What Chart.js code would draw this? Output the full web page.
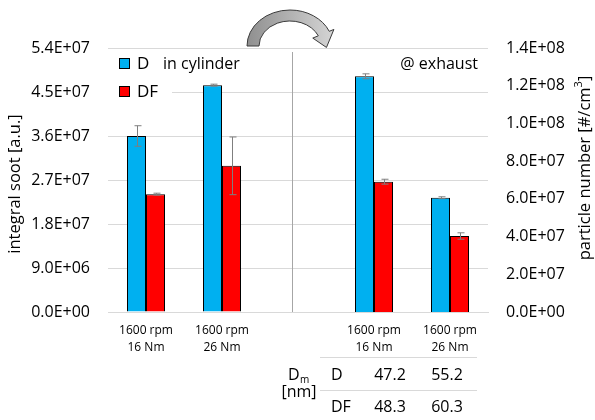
<!DOCTYPE html>
<html>
<head>
<meta charset="utf-8">
<script src="https://cdn.jsdelivr.net/npm/chart.js@4"></script>
<style>
  html, body { margin: 0; padding: 0; background: #fff; }
  #wrap { width: 595px; height: 420px; }
</style>
</head>
<body>
<div id="wrap"><canvas id="chart" width="595" height="420"></canvas></div>
<script>
// categories (index 2 is the gap between "in cylinder" and "@ exhaust")
const categories = [["1600 rpm", "16 Nm"], ["1600 rpm", "26 Nm"], "", ["1600 rpm", "16 Nm"], ["1600 rpm", "26 Nm"]];

// in cylinder -> integral soot [a.u.] (left axis)
const cylD = [3.60e7, 4.64e7, null, null, null];
const cylDF = [2.41e7, 2.99e7, null, null, null];
const cylDErr = [2.1e6, 0.2e6, null, null, null];
const cylDFErr = [0.2e6, 5.9e6, null, null, null];

// @ exhaust -> particle number [#/cm3] (right axis)
const exhD = [null, null, null, 1.25e8, 6.06e7];
const exhDF = [null, null, null, 6.91e7, 4.03e7];
const exhDErr = [null, null, null, 1.3e6, 0.5e6];
const exhDFErr = [null, null, null, 1.3e6, 1.7e6];

// mean diameter table below the exhaust groups
const dmRows = ["D", "DF"];
const dmD = [47.2, 55.2];
const dmDF = [48.3, 60.3];

const leftTicks = { min: 0, max: 5.4e7, step: 9e6 };
const rightTicks = { min: 0, max: 1.4e8, step: 2e7 };

const FONT = "'Open Sans', 'Liberation Sans', sans-serif";
const BLUE = "#00B0F0";
const RED = "#FF0000";

function sci(v) {
    if (v === 0) return "0.0E+00";
    const e = Math.floor(Math.log10(Math.abs(v)) + 1e-9);
    const m = v / Math.pow(10, e);
    return m.toFixed(1) + "E+" + String(e).padStart(2, "0");
}

const errors = [cylDErr, cylDFErr, exhDErr, exhDFErr];

const errorBars = {
    id: "errorBars",
    afterDatasetsDraw(chart) {
        const ctx = chart.ctx;
        ctx.save();
        ctx.strokeStyle = "#7f7f7f";
        ctx.lineWidth = 1;
        chart.data.datasets.forEach((ds, i) => {
            const meta = chart.getDatasetMeta(i);
            const scale = chart.scales[meta.yAxisID];
            meta.data.forEach((bar, j) => {
                const v = ds.data[j];
                const e = errors[i][j];
                if (v == null || e == null) return;
                const x = Math.round(bar.x) + 0.5;
                const yt = scale.getPixelForValue(v + e);
                const yb = scale.getPixelForValue(v - e);
                ctx.beginPath();
                ctx.moveTo(x, yt); ctx.lineTo(x, yb);
                ctx.moveTo(x - 3, yt); ctx.lineTo(x + 4, yt);
                ctx.moveTo(x - 3, yb); ctx.lineTo(x + 4, yb);
                ctx.stroke();
            });
        });
        ctx.restore();
    }
};

const decorations = {
    id: "decorations",
    afterDraw(chart) {
        const ctx = chart.ctx;
        const area = chart.chartArea;
        const xs = chart.scales.x;
        ctx.save();

        // divider between the two halves
        const xd = Math.round((xs.getPixelForValue(1) + xs.getPixelForValue(3)) / 2 - 6) + 0.5;
        ctx.strokeStyle = "#a6a6a6";
        ctx.lineWidth = 1;
        ctx.beginPath();
        ctx.moveTo(xd, area.top + 4);
        ctx.lineTo(xd, area.bottom);
        ctx.stroke();

        // legend box
        ctx.fillStyle = "#fff";
        ctx.fillRect(area.left, area.top + 3, 64, 50);
        const legendItems = [chart.data.datasets[0], chart.data.datasets[1]];
        legendItems.forEach((ds, i) => {
            const y = area.top + 15 + i * 28;
            ctx.fillStyle = ds.backgroundColor;
            ctx.fillRect(area.left + 11.5, y - 4.5, 10, 10);
            ctx.strokeStyle = "#000";
            ctx.strokeRect(area.left + 11.5, y - 4.5, 10, 10);
            ctx.fillStyle = "#000";
            ctx.font = "17px " + FONT;
            ctx.textBaseline = "middle";
            ctx.textAlign = "left";
            ctx.fillText(ds.label, area.left + 29, y + 1);
        });
        ctx.font = "16px " + FONT;
        ctx.fillText("in cylinder", area.left + 55, area.top + 16);
        ctx.textAlign = "right";
        ctx.fillText("@ exhaust", area.right - 10, area.top + 16);

        // axis titles
        ctx.textAlign = "center";
        ctx.font = "16.5px " + FONT;
        ctx.save();
        ctx.translate(15, (area.top + area.bottom) / 2 + 4);
        ctx.rotate(-Math.PI / 2);
        ctx.fillText("integral soot [a.u.]", 0, 0);
        ctx.restore();

        ctx.save();
        ctx.translate(585, (area.top + area.bottom) / 2 - 12);
        ctx.rotate(-Math.PI / 2);
        const t1 = "particle number [#/cm";
        const w1 = ctx.measureText(t1).width;
        ctx.font = "11px " + FONT;
        const w2 = ctx.measureText("3").width;
        ctx.font = "16.5px " + FONT;
        const w3 = ctx.measureText("]").width;
        const x0 = -(w1 + w2 + w3) / 2;
        ctx.textAlign = "left";
        ctx.fillText(t1, x0, 0);
        ctx.font = "11px " + FONT;
        ctx.fillText("3", x0 + w1, -6);
        ctx.font = "16.5px " + FONT;
        ctx.fillText("]", x0 + w1 + w2, 0);
        ctx.restore();

        // curved arrow above the divider
        const cx = 290, cy = 46;
        const th = -0.42;
        const ox = cx + 43 * Math.cos(th), oy = cy + 36 * Math.sin(th);
        const ix = cx + 31 * Math.cos(th), iy = cy + 25 * Math.sin(th);
        const dx = ox - ix, dy = oy - iy, dl = Math.hypot(dx, dy);
        const ux = dx / dl, uy = dy / dl;
        const mx = (ox + ix) / 2, my = (oy + iy) / 2;
        const tip = [mx - uy * 15 - 3, my + ux * 15];
        const grad = ctx.createLinearGradient(247, 0, 335, 0);
        grad.addColorStop(0, "#8f8f8f");
        grad.addColorStop(1, "#d6d6d6");
        ctx.beginPath();
        ctx.ellipse(cx, cy, 43, 36, 0, Math.PI, 2 * Math.PI + th, false);
        ctx.lineTo(ox + ux * 5, oy + uy * 5);
        ctx.lineTo(tip[0], tip[1]);
        ctx.lineTo(ix - ux * 6, iy - uy * 6);
        ctx.lineTo(ix, iy);
        ctx.ellipse(cx, cy, 31, 25, 0, 2 * Math.PI + th, Math.PI, true);
        ctx.closePath();
        ctx.fillStyle = grad;
        ctx.fill();
        ctx.strokeStyle = "#3a3a3a";
        ctx.lineWidth = 1;
        ctx.stroke();

        // Dm table
        const tl = 320, tr = 477;
        ctx.strokeStyle = "#d9d9d9";
        ctx.beginPath();
        ctx.moveTo(tl, 357.5); ctx.lineTo(tr, 357.5);
        ctx.moveTo(tl, 390.5); ctx.lineTo(tr, 390.5);
        ctx.stroke();
        ctx.fillStyle = "#000";
        ctx.textBaseline = "middle";
        ctx.font = "16px " + FONT;
        ctx.textAlign = "left";
        ctx.fillText("D", 288, 375);
        ctx.font = "10px " + FONT;
        ctx.fillText("m", 300, 380);
        ctx.font = "16px " + FONT;
        ctx.textAlign = "center";
        ctx.fillText("[nm]", 299, 392);
        const rowsY = [375, 407];
        const colX = [xs.getPixelForValue(3) + 16, xs.getPixelForValue(4) - 3];
        [dmD, dmDF].forEach((vals, r) => {
            ctx.textAlign = "left";
            ctx.fillText(dmRows[r], 331, rowsY[r]);
            ctx.textAlign = "center";
            vals.forEach((v, c) => ctx.fillText(v.toFixed(1), colX[c], rowsY[r]));
        });

        ctx.restore();
    }
};

new Chart(document.getElementById("chart"), {
    type: "bar",
    data: {
        labels: categories,
        datasets: [
            { label: "D", data: cylD, backgroundColor: BLUE, borderColor: "#000", borderWidth: 1, yAxisID: "y", stack: "D" },
            { label: "DF", data: cylDF, backgroundColor: RED, borderColor: "#000", borderWidth: 1, yAxisID: "y", stack: "DF" },
            { label: "D", data: exhD, backgroundColor: BLUE, borderColor: "#000", borderWidth: 1, yAxisID: "y1", stack: "D" },
            { label: "DF", data: exhDF, backgroundColor: RED, borderColor: "#000", borderWidth: 1, yAxisID: "y1", stack: "DF" }
        ]
    },
    options: {
        responsive: false,
        animation: false,
        layout: { padding: { top: 48, left: 0, right: 0, bottom: 0 } },
        datasets: { bar: { barPercentage: 1, categoryPercentage: 0.5 } },
        plugins: { legend: { display: false }, tooltip: { enabled: false } },
        scales: {
            x: {
                grid: { display: false, drawTicks: false },
                border: { color: "#d9d9d9" },
                ticks: {
                    autoSkip: false, maxRotation: 0, padding: 10, color: "#000",
                    font: { family: FONT, size: 12, lineHeight: 1.4 }
                },
                afterFit(scale) { scale.height = 108; }
            },
            y: {
                position: "left",
                stacked: false,
                min: leftTicks.min, max: leftTicks.max,
                grid: { color: "#d9d9d9", drawTicks: false },
                border: { display: false },
                ticks: {
                    stepSize: leftTicks.step, padding: 18, color: "#000",
                    font: { family: FONT, size: 16 },
                    callback: (v) => sci(v)
                },
                afterFit(scale) { scale.width = 108; }
            },
            y1: {
                position: "right",
                stacked: false,
                min: rightTicks.min, max: rightTicks.max,
                grid: { display: false, drawTicks: false },
                border: { display: false },
                ticks: {
                    stepSize: rightTicks.step, padding: 18, color: "#000",
                    font: { family: FONT, size: 16 },
                    callback: (v) => sci(v)
                },
                afterFit(scale) { scale.width = 107; }
            }
        }
    },
    plugins: [errorBars, decorations]
});
</script>
</body>
</html>
